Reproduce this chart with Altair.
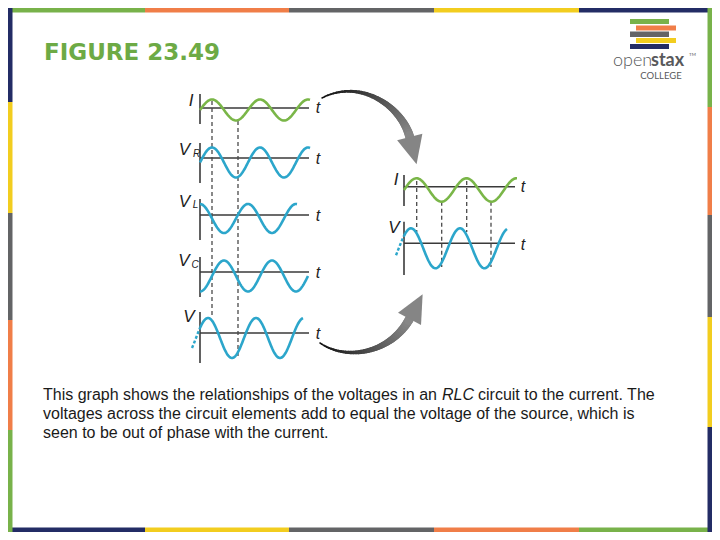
import numpy as np
import pandas as pd
import altair as alt

# ---------------- data (reference-pixel coordinates) ----------------
GREEN, BLUE = "#7AB648", "#2CA6CB"

wave_id     = ["I", "VR", "VL", "VC", "V", "I2", "V2"]
wave_color  = [GREEN, BLUE, BLUE, BLUE, BLUE, GREEN, BLUE]
wave_start  = [200, 200, 200, 200, 200, 404, 404]
wave_end    = [310, 310, 297, 308, 303, 517, 507]
wave_mid    = [110, 162.5, 218.5, 276, 338, 190, 248.3]
wave_amp    = [10.5, 15, 14.5, 15.5, 20, 11.7, 20]
wave_peak   = [212, 212, 200, 224, 208, 416.5, 411]
wave_period = [48, 48, 48, 48, 48, 50, 49]
# dashed continuation of the source voltage left of its axis
ext_wave  = [4, 6]
ext_start = [192, 396]

vaxis_x   = [200, 200, 200, 200, 200, 404, 404]
vaxis_top = [94, 143, 199, 257, 312, 175, 221.7]
vaxis_bot = [124, 183, 240, 297, 363, 206, 275]
haxis_y   = [108, 158, 215, 272, 333, 186.7, 243.3]
haxis_x0  = [200, 200, 200, 200, 200, 404, 404]
haxis_x1  = [309, 309, 309, 309, 309, 515, 515]

dash_x  = [212, 238, 416.7, 441.7, 466.7, 491]
dash_y0 = [101, 121, 181, 201.7, 181, 201.7]
dash_y1 = [318, 356, 232, 267, 232, 267]

lab_text = ["I", "V", "V", "V", "V", "I", "V"]
lab_x    = [191, 184.5, 184.5, 184, 189, 396, 394]
lab_y    = [100.5, 149.5, 202, 261, 317, 180, 228]
sub_text = ["R", "L", "C"]
sub_x    = [196.5, 195.5, 195]
sub_y    = [154, 205, 265]
t_x      = [318, 318, 318, 318, 318, 523, 523]
t_y      = [108, 159, 216, 273, 334, 187, 245]

# curved arrows: cubic Bezier control points
arrow_px = [[322, 360, 402, 410], [320, 348, 392, 410]]
arrow_py = [[98, 78, 106, 138], [343, 362, 352, 318]]

title_text = "FIGURE 23.49"
body_lines = [
    "This graph shows the relationships of the voltages in an ",
    "voltages across the circuit elements add to equal the voltage of the source, which is",
    "seen to be out of phase with the current.",
]
body_y = [395, 414, 433]
body_italic = "RLC"
body_tail = "circuit to the current. The"

# slide decoration
NAVY, YELLOW, GRAY, ORANGE, LGREEN = "#232C65", "#F2CD1F", "#636466", "#F07E48", "#78B24A"
top_cols, top_brk = [LGREEN, ORANGE, GRAY, YELLOW, NAVY], [0, 145, 289, 434, 579, 720]
bot_cols, bot_brk = [NAVY, YELLOW, GRAY, ORANGE, LGREEN], [0, 145, 289, 434, 579, 716]
left_cols, left_brk = [NAVY, YELLOW, GRAY, ORANGE, LGREEN], [0, 102, 213, 320, 430, 535]
right_cols, right_brk = [LGREEN, ORANGE, GRAY, YELLOW, NAVY], [0, 107, 215, 317, 427, 540]
logo_cols = [LGREEN, ORANGE, GRAY, YELLOW, NAVY]
logo_x0 = [630, 636, 630, 636, 630]
logo_x1 = [669, 676, 669, 676, 669]
logo_y0 = [19, 25.5, 31.5, 38, 44]
logo_y1 = [24, 30.5, 37, 43, 49]

# ---------------- layout ----------------
W, H = 704, 524
X0, Y0 = 8, 8
XR, YB = X0 + W, Y0 + H
xs = alt.Scale(domain=[X0, XR], nice=False, zero=False)
ys = alt.Scale(domain=[Y0, YB], nice=False, zero=False, reverse=True)


def X(f="x"):
    return alt.X(f"{f}:Q", scale=xs, axis=None)


def Y(f="y"):
    return alt.Y(f"{f}:Q", scale=ys, axis=None)


def wave_y(i, x):
    return wave_mid[i] - wave_amp[i] * np.cos(2 * np.pi * (x - wave_peak[i]) / wave_period[i])


def text_layer(xv, yv, sv, **props):
    df = pd.DataFrame(dict(x=xv, y=yv, s=sv))
    return alt.Chart(df).mark_text(**props).encode(x=X(), y=Y(), text="s:N")


layers = []

# borders
rows = []
T = 4.5
for c, a, b in zip(top_cols, top_brk[:-1], top_brk[1:]):
    rows.append(dict(x=max(a, X0), x2=min(b, XR), y=Y0, y2=Y0 + T, c=c))
for c, a, b in zip(bot_cols, bot_brk[:-1], bot_brk[1:]):
    rows.append(dict(x=max(a, X0), x2=min(b, XR), y=YB - T, y2=YB, c=c))
for c, a, b in zip(left_cols, left_brk[:-1], left_brk[1:]):
    rows.append(dict(x=X0, x2=X0 + T, y=max(a, Y0), y2=min(b, YB), c=c))
for c, a, b in zip(right_cols, right_brk[:-1], right_brk[1:]):
    rows.append(dict(x=XR - T, x2=XR, y=max(a, Y0), y2=min(b, YB), c=c))
for c, a, b, p, q in zip(logo_cols, logo_x0, logo_x1, logo_y0, logo_y1):
    rows.append(dict(x=a, x2=b, y=p, y2=q, c=c))
layers.append(alt.Chart(pd.DataFrame(rows)).mark_rect().encode(
    x=X(), x2="x2:Q", y=Y(), y2="y2:Q", color=alt.Color("c:N", scale=None)))

# axes
ax = [dict(x=vx, x2=vx, y=a, y2=b) for vx, a, b in zip(vaxis_x, vaxis_top, vaxis_bot)]
ax += [dict(x=a, x2=b, y=hy, y2=hy) for hy, a, b in zip(haxis_y, haxis_x0, haxis_x1)]
layers.append(alt.Chart(pd.DataFrame(ax)).mark_rule(color="#3a3a3a", strokeWidth=1.6).encode(
    x=X(), x2="x2:Q", y=Y(), y2="y2:Q"))

# dashed guides
dd = pd.DataFrame(dict(x=dash_x, x2=dash_x, y=dash_y0, y2=dash_y1))
layers.append(alt.Chart(dd).mark_rule(color="#4a4a4a", strokeWidth=1.3, strokeDash=[4, 3]).encode(
    x=X(), x2="x2:Q", y=Y(), y2="y2:Q"))

# waves
wr = []
for i in range(len(wave_id)):
    xx = np.linspace(wave_start[i], wave_end[i], 160)
    for k, xv in enumerate(xx):
        wr.append(dict(x=xv, y=wave_y(i, xv), id=wave_id[i], c=wave_color[i], o=k))
layers.append(alt.Chart(pd.DataFrame(wr)).mark_line(strokeWidth=2.6).encode(
    x=X(), y=Y(), detail="id:N", order="o:Q", color=alt.Color("c:N", scale=None)))

er = []
for j, i in enumerate(ext_wave):
    xx = np.linspace(ext_start[j], wave_start[i], 12)
    for k, xv in enumerate(xx):
        er.append(dict(x=xv, y=wave_y(i, xv), id=str(j), o=k))
layers.append(alt.Chart(pd.DataFrame(er)).mark_line(strokeWidth=2.4, color=BLUE, strokeDash=[3, 2]).encode(
    x=X(), y=Y(), detail="id:N", order="o:Q"))

# arrows
seg, heads = [], []
N = 40
for px, py in zip(arrow_px, arrow_py):
    t = np.linspace(0, 1, N + 1)
    bx = (1 - t) ** 3 * px[0] + 3 * (1 - t) ** 2 * t * px[1] + 3 * (1 - t) * t ** 2 * px[2] + t ** 3 * px[3]
    by = (1 - t) ** 3 * py[0] + 3 * (1 - t) ** 2 * t * py[1] + 3 * (1 - t) * t ** 2 * py[2] + t ** 3 * py[3]
    for k in range(N):
        f = k / (N - 1)
        g = int(15 + f * 120)
        seg.append(dict(x=bx[k], y=by[k], x2=bx[k + 1], y2=by[k + 1],
                        w=1.5 + 7.5 * f ** 1.2, c=f"#{g:02x}{g:02x}{g:02x}"))
    dx, dy = px[3] - px[2], py[3] - py[2]
    L = np.hypot(dx, dy)
    dx, dy = dx / L, dy / L
    ang = np.degrees(np.arctan2(-dx, dy)) % 360
    heads.append(dict(x=px[3] + 13 * dx, y=py[3] + 13 * dy, ang=ang))
layers.append(alt.Chart(pd.DataFrame(seg)).mark_rule(strokeCap="round").encode(
    x=X(), x2="x2:Q", y=Y(), y2="y2:Q",
    strokeWidth=alt.StrokeWidth("w:Q", scale=None), color=alt.Color("c:N", scale=None)))
layers.append(alt.Chart(pd.DataFrame(heads)).mark_point(
    shape="M -0.93 -1 L 0.93 -1 L 0 1 Z", filled=True, size=784, opacity=1,
    strokeWidth=0, color="#858585").encode(
    x=X(), y=Y(), angle=alt.Angle("ang:Q", scale=None)))

# labels
FONT = "Liberation Sans"
layers.append(text_layer(lab_x, lab_y, lab_text, font=FONT, fontSize=17, fontStyle="italic",
                         color="#222", baseline="middle", align="center"))
layers.append(text_layer(sub_x, sub_y, sub_text, font=FONT, fontSize=10, fontStyle="italic",
                         color="#222", baseline="middle", align="center"))
layers.append(text_layer(t_x, t_y, ["t"] * len(t_x), font=FONT, fontSize=16, fontStyle="italic",
                         color="#222", baseline="middle", align="center"))

# title
layers.append(text_layer([44], [60], [title_text], font="DejaVu Sans", fontSize=23, fontWeight="bold",
                         color="#6DAA45", baseline="alphabetic", align="left"))

# body
layers.append(text_layer([43] * 3, body_y, body_lines, font=FONT, fontSize=16,
                         color="#1a1a1a", baseline="middle", align="left"))
layers.append(text_layer([442], [body_y[0]], [body_italic], font=FONT, fontSize=16, fontStyle="italic",
                         color="#1a1a1a", baseline="middle", align="left"))
layers.append(text_layer([478], [body_y[0]], [body_tail], font=FONT, fontSize=16,
                         color="#1a1a1a", baseline="middle", align="left"))

# logo text
layers.append(text_layer([613], [61], ["open"], font="Lato", fontSize=18, fontWeight=300,
                         color="#58595B", baseline="middle", align="left"))
layers.append(text_layer([651], [61], ["stax"], font="Lato", fontSize=18, fontWeight="bold",
                         color="#58595B", baseline="middle", align="left"))
layers.append(text_layer([689], [55], ["TM"], font="Lato", fontSize=4.5,
                         color="#58595B", baseline="middle", align="left"))
layers.append(text_layer([661], [76], ["COLLEGE"], font="Lato", fontSize=9.5,
                         color="#58595B", baseline="middle", align="center"))

chart = alt.layer(*layers).properties(
    width=W, height=H, padding=0, autosize=alt.AutoSizeParams(type="none"),
    background="white",
).configure_view(stroke=None)

chart.save("out.html", embed_options={"renderer": "svg", "actions": False})
